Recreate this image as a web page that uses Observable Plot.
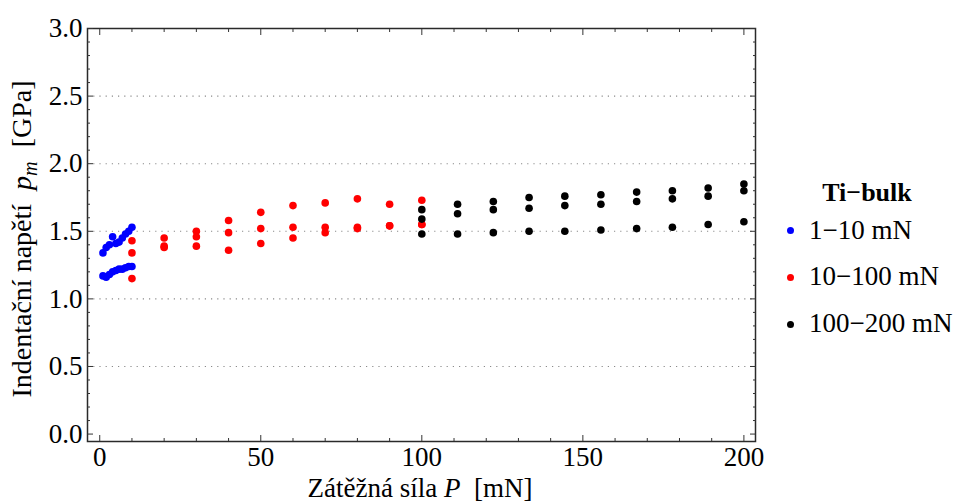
<!DOCTYPE html>
<html><head><meta charset="utf-8">
<script src="https://cdn.jsdelivr.net/npm/d3@7"></script>
<script src="https://cdn.jsdelivr.net/npm/@observablehq/plot@0.6"></script>
<style>
html,body{margin:0;padding:0;background:#fff;}
#wrap{position:relative;width:960px;height:504px;font-family:"Liberation Serif","Times New Roman",serif;color:#000;overflow:hidden;background:#fff}
.lab{position:absolute;white-space:pre;line-height:1;}
sub{font-size:0.72em;vertical-align:-0.28em;line-height:0}
</style></head><body><div id="wrap"></div>
<script>
// ---- data ----
const seriesNames = ["1\u221210 mN", "10\u2212100 mN", "100\u2212200 mN"];
const legendTitle = "Ti\u2212bulk";

const blueP = [1, 2, 3, 4, 5, 6, 7, 8, 9, 10];
const blueUpper = [1.34, 1.38, 1.40, 1.46, 1.41, 1.42, 1.45, 1.48, 1.50, 1.53];
const blueLower = [1.17, 1.16, 1.18, 1.20, 1.21, 1.22, 1.22, 1.23, 1.24, 1.24];

const redP = [10, 20, 30, 40, 50, 60, 70, 80, 90, 100];
const redA = [1.43, 1.45, 1.50, 1.58, 1.64, 1.69, 1.71, 1.74, 1.70, 1.73];
const redB = [1.34, 1.39, 1.46, 1.49, 1.52, 1.53, 1.53, 1.53, 1.54, 1.55];
const redC = [1.15, 1.38, 1.39, 1.36, 1.41, 1.45, 1.49, 1.52, 1.54, 1.55];

const blackP = [100, 111.1, 122.2, 133.3, 144.4, 155.6, 166.7, 177.8, 188.9, 200];
const blackA = [1.66, 1.70, 1.72, 1.75, 1.76, 1.77, 1.79, 1.80, 1.82, 1.85];
const blackB = [1.59, 1.63, 1.66, 1.67, 1.69, 1.70, 1.72, 1.74, 1.76, 1.80];
const blackC = [1.48, 1.48, 1.49, 1.50, 1.50, 1.51, 1.52, 1.53, 1.55, 1.57];

const yMajor = [0, 0.5, 1.0, 1.5, 2.0, 2.5, 3.0];
const yGrid = [0.5, 1.0, 1.5, 2.0, 2.5];
const yMinor = d3.range(0, 31).map(i => i / 10).filter(v => Math.abs(v * 2 - Math.round(v * 2)) > 1e-9);
const xMajor = [0, 50, 100, 150, 200];
const xMinor = [10, 20, 30, 40, 60, 70, 80, 90, 110, 120, 130, 140, 160, 170, 180, 190];

// ---- build table ----
const rows = [];
function add(Ps, vals, s) { Ps.forEach((p, i) => rows.push({P: p, pm: vals[i], series: s})); }
add(blueP, blueUpper, seriesNames[0]);
add(blueP, blueLower, seriesNames[0]);
add(redP, redA, seriesNames[1]);
add(redP, redB, seriesNames[1]);
add(redP, redC, seriesNames[1]);
add(blackP, blackA, seriesNames[2]);
add(blackP, blackB, seriesNames[2]);
add(blackP, blackC, seriesNames[2]);

const colors = ["#0000ff", "#ff0000", "#000000"];
const tickStroke = "#333";
const none = () => "";

const plot = Plot.plot({
  width: 960, height: 504,
  marginLeft: 87, marginRight: 205, marginTop: 28, marginBottom: 63,
  x: {domain: [-3.8, 203.6]},
  y: {domain: [-0.055, 3.0]},
  color: {domain: seriesNames, range: colors},
  style: {fontFamily: "'Liberation Serif', 'Times New Roman', serif", fontSize: "27px", color: "#000", background: "#fff", overflow: "visible"},
  marks: [
    Plot.gridY(yGrid, {stroke: "#8a8a8a", strokeOpacity: 1, strokeWidth: 1.1, strokeDasharray: "1.2,5"}),
    Plot.dot(rows, {x: "P", y: "pm", fill: "series", r: 3.8}),
    Plot.frame({stroke: "#2a2a2a", strokeWidth: 1.5}),
    // tick labels
    Plot.axisY(yMajor, {anchor: "left", tickSize: 0, tickPadding: 5, tickFormat: d3.format(".1f"), label: null}),
    Plot.axisX(xMajor, {anchor: "bottom", tickSize: 0, tickPadding: 5, tickFormat: d3.format("d"), label: null}),
    // inward ticks left
    Plot.axisY(yMajor, {anchor: "left", tickSize: 6, dx: 6, tickFormat: none, label: null, stroke: tickStroke}),
    Plot.axisY(yMinor, {anchor: "left", tickSize: 3, dx: 3, tickFormat: none, label: null, stroke: tickStroke}),
    // right
    Plot.axisY(yMajor, {anchor: "right", tickSize: 6, dx: -6, tickFormat: none, label: null, stroke: tickStroke}),
    Plot.axisY(yMinor, {anchor: "right", tickSize: 3, dx: -3, tickFormat: none, label: null, stroke: tickStroke}),
    // bottom
    Plot.axisX(xMajor, {anchor: "bottom", tickSize: 6, dy: -6, tickFormat: none, label: null, stroke: tickStroke}),
    Plot.axisX(xMinor, {anchor: "bottom", tickSize: 3, dy: -3, tickFormat: none, label: null, stroke: tickStroke}),
    // top
    Plot.axisX(xMajor, {anchor: "top", tickSize: 6, dy: 6, tickFormat: none, label: null, stroke: tickStroke}),
    Plot.axisX(xMinor, {anchor: "top", tickSize: 3, dy: 3, tickFormat: none, label: null, stroke: tickStroke})
  ]
});

const wrap = document.getElementById("wrap");
wrap.appendChild(plot);

// ---- axis labels ----
const yLab = document.createElement("div");
yLab.className = "lab";
yLab.style.fontSize = "28px";
yLab.innerHTML = "Indentační napětí  <i>p</i><sub><i>m</i></sub>  [GPa]";
yLab.style.left = "22px";
yLab.style.top = "239px";
yLab.style.transform = "translate(-50%,-50%) rotate(-90deg)";
wrap.appendChild(yLab);

const xLab = document.createElement("div");
xLab.className = "lab";
xLab.style.fontSize = "27px";
xLab.innerHTML = "Zátěžná síla <i>P</i>  [mN]";
xLab.style.left = "420px";
xLab.style.top = "475px";
xLab.style.transform = "translateX(-50%)";
wrap.appendChild(xLab);

// ---- legend ----
const title = document.createElement("div");
title.className = "lab";
title.style.cssText += "font-size:26px;font-weight:bold;left:867px;top:180px;transform:translateX(-50%)";
title.textContent = legendTitle;
wrap.appendChild(title);

const color = plot.scale("color");
seriesNames.forEach((name, i) => {
  const baseline = 239.3 + i * 46.7;
  const dot = document.createElement("div");
  dot.style.cssText = `position:absolute;width:7px;height:7px;border-radius:50%;left:${790 - 3.5}px;top:${baseline - 8.6 - 3.5}px;background:${color.apply(name)}`;
  wrap.appendChild(dot);
  const t = document.createElement("div");
  t.className = "lab";
  t.style.cssText += `font-size:27px;left:809px;top:${baseline - 22.6}px`;
  t.textContent = name;
  wrap.appendChild(t);
});
</script>
</body></html>
